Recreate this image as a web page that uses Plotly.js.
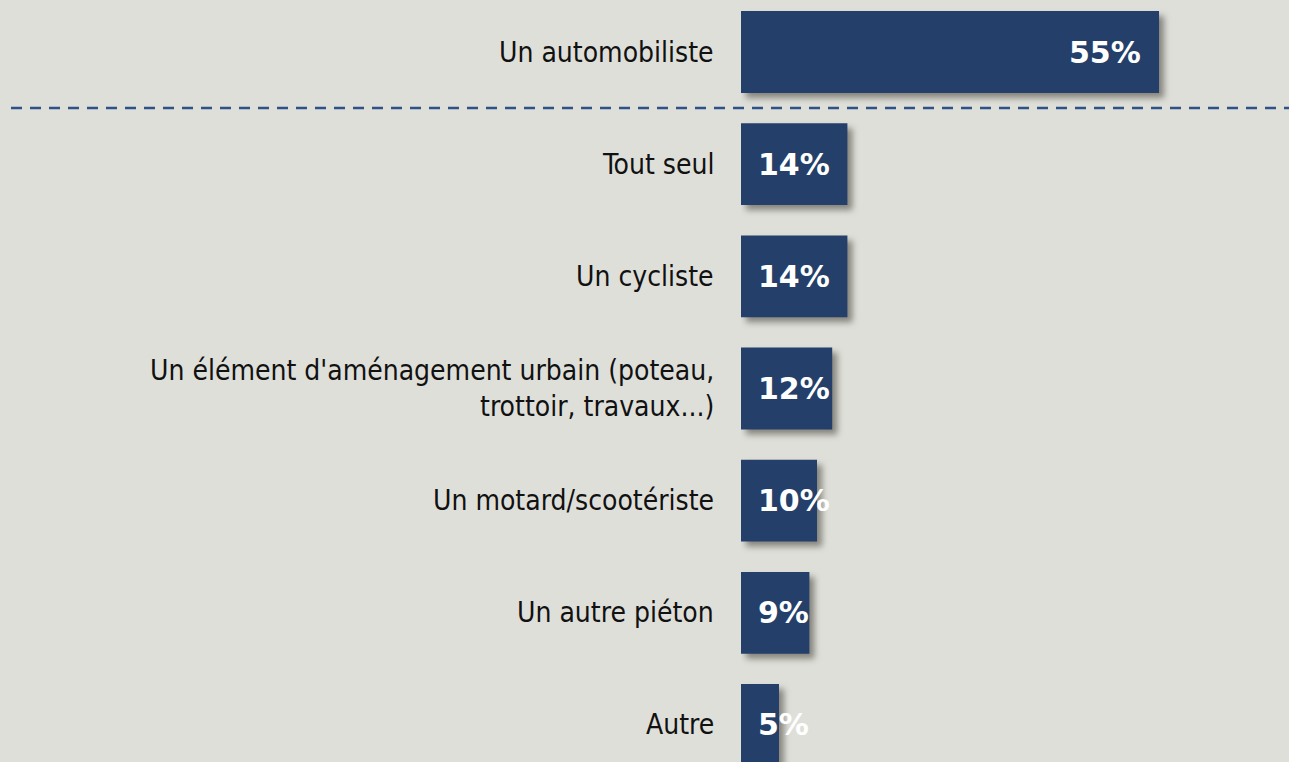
<!DOCTYPE html>
<html><head><meta charset="utf-8">
<script src="https://cdn.plot.ly/plotly-3.0.1.min.js"></script>
<style>
html,body{margin:0;padding:0;background:#dfdfda;}
#chart{width:1289px;height:762px;}
.barlayer .point path{filter:drop-shadow(5px 5px 3px rgba(60,60,50,0.55));}
</style></head>
<body><div id="chart"></div>
<script>
const categories = ["Un automobiliste","Tout seul","Un cycliste","Un élément d'aménagement urbain (poteau,<br>trottoir, travaux...)","Un motard/scootériste","Un autre piéton","Autre"];
const values = [55,14,14,12,10,9,5];
const valueLabels = ["55%","14%","14%","12%","10%","9%","5%"];

const labelFont = "'DejaVu Sans Condensed', 'DejaVu Sans', sans-serif";
const valueFont = "'DejaVu Sans', sans-serif";
const barColor = "#243f6a";

const annotations = values.map((v,i)=>{
  const big = v > 30;
  return {
    x: big ? v : 0, y: i, xref:'x', yref:'y',
    text: '<b>'+valueLabels[i]+'</b>', showarrow:false,
    xanchor: big ? 'right' : 'left', xshift: big ? -16 : 15,
    font:{family:valueFont,size:30,color:'#ffffff'}
  };
});
categories.forEach((c,i)=>{
  annotations.push({
    x:0, y:i, xref:'x', yref:'y', text:c, showarrow:false,
    xanchor:'right', align:'right', xshift:-25,
    font:{family:labelFont,size:28,color:'#111111'}
  });
});

const data = [{
  type:'bar', orientation:'h', x: values, y: categories.map((c,i)=>i),
  marker:{color:barColor, line:{width:0}}, width:0.73, hoverinfo:'skip'
}];

const layout = {
  width:1289, height:762,
  margin:{l:741,r:0,t:0,b:0,pad:0},
  paper_bgcolor:'#dfdfda', plot_bgcolor:'#dfdfda',
  showlegend:false,
  xaxis:{range:[0,72.1], visible:false, fixedrange:true},
  yaxis:{range:[6.33,-0.4636], visible:false, fixedrange:true},
  annotations: annotations,
  shapes:[{type:'line', xref:'paper', yref:'y', x0:-730/548, x1:1, y0:0.5, y1:0.5,
    line:{color:'#2c5287', width:2.5, dash:'11px,8px'}}]
};
Plotly.newPlot('chart', data, layout, {displayModeBar:false, staticPlot:true});
</script></body></html>
